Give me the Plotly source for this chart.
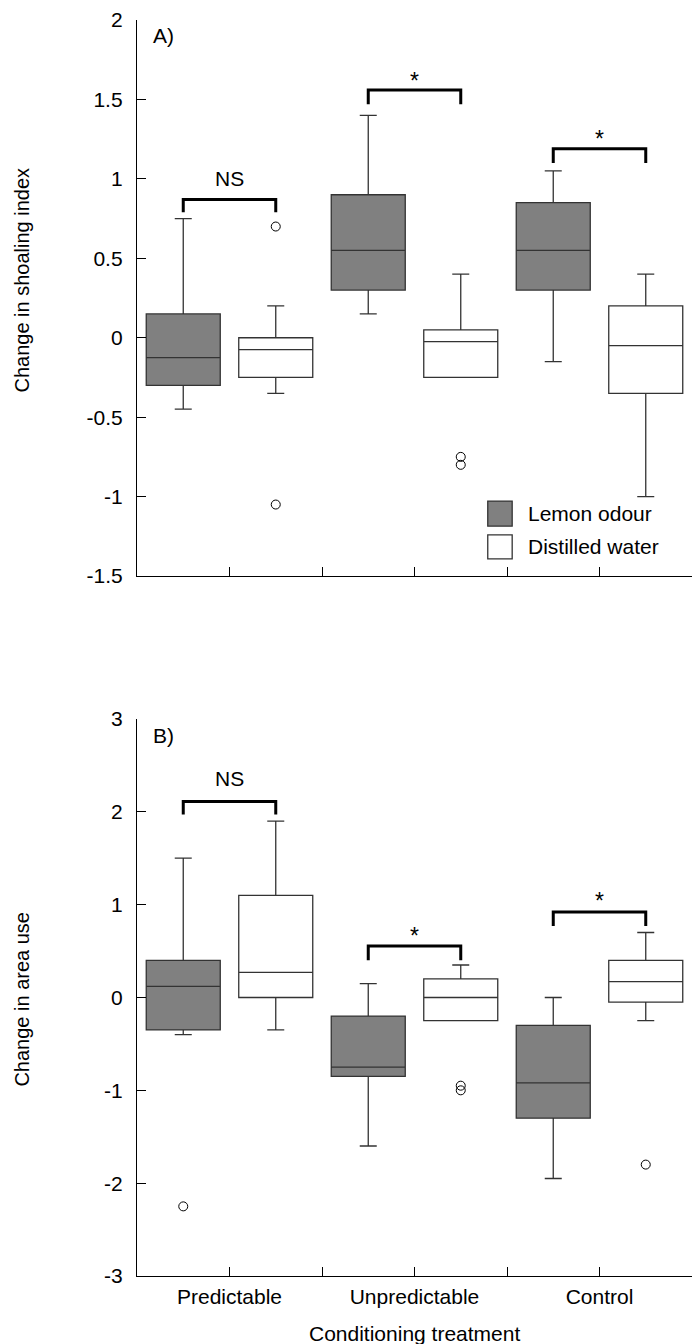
import plotly.graph_objects as go

# Conditioning treatments (x categories)
categories = ["Predictable", "Unpredictable", "Control"]

# Panel A: change in shoaling index, box statistics per treatment
shoal_lemon_lo = [-0.45, 0.15, -0.15]
shoal_lemon_q1 = [-0.30, 0.30, 0.30]
shoal_lemon_med = [-0.125, 0.55, 0.55]
shoal_lemon_q3 = [0.15, 0.90, 0.85]
shoal_lemon_hi = [0.75, 1.40, 1.05]

shoal_water_lo = [-0.35, -0.25, -1.00]
shoal_water_q1 = [-0.25, -0.25, -0.35]
shoal_water_med = [-0.075, -0.025, -0.05]
shoal_water_q3 = [0.00, 0.05, 0.20]
shoal_water_hi = [0.20, 0.40, 0.40]

shoal_water_out_cat = ["Predictable", "Predictable", "Unpredictable", "Unpredictable"]
shoal_water_out_val = [0.70, -1.05, -0.75, -0.80]

shoal_sig = ["NS", "*", "*"]
shoal_bracket_top = [0.87, 1.56, 1.19]
shoal_bracket_foot = [0.79, 1.47, 1.10]
shoal_sig_y = [1.005, 1.615, 1.25]

# Panel B: change in area use, box statistics per treatment
area_lemon_lo = [-0.40, -1.60, -1.95]
area_lemon_q1 = [-0.35, -0.85, -1.30]
area_lemon_med = [0.12, -0.75, -0.92]
area_lemon_q3 = [0.40, -0.20, -0.30]
area_lemon_hi = [1.50, 0.15, 0.00]

area_lemon_out_cat = ["Predictable"]
area_lemon_out_val = [-2.25]

area_water_lo = [-0.35, -0.25, -0.25]
area_water_q1 = [0.00, -0.25, -0.05]
area_water_med = [0.27, 0.00, 0.17]
area_water_q3 = [1.10, 0.20, 0.40]
area_water_hi = [1.90, 0.35, 0.70]

area_water_out_cat = ["Unpredictable", "Unpredictable", "Control"]
area_water_out_val = [-0.95, -1.00, -1.80]

area_sig = ["NS", "*", "*"]
area_bracket_top = [2.11, 0.555, 0.92]
area_bracket_foot = [1.97, 0.40, 0.77]
area_sig_y = [2.36, 0.665, 1.035]

shoal_ticks = [-1.5, -1, -0.5, 0, 0.5, 1, 1.5, 2]
shoal_ticktext = ["-1.5", "-1", "-0.5", "0", "0.5", "1", "1.5", "2"]
area_ticks = [-3, -2, -1, 0, 1, 2, 3]
area_ticktext = ["-3", "-2", "-1", "0", "1", "2", "3"]

FONT = "Arial, Liberation Sans, sans-serif"
FS = 21
LEMON_FILL = "#808080"
WATER_FILL = "#ffffff"
EDGE = "#333333"

# each treatment gets two slots: lemon odour then distilled water
lemon_x = [2 * i for i in range(len(categories))]
water_x = [2 * i + 1 for i in range(len(categories))]


def slot(cat, offset):
    return 2 * categories.index(cat) + offset


fig = go.Figure()


def add_boxes(xs, lo, q1, med, q3, hi, fill, ax):
    fig.add_trace(go.Box(
        x=xs, lowerfence=lo, q1=q1, median=med, q3=q3, upperfence=hi,
        width=0.8, whiskerwidth=0.23, fillcolor=fill,
        line=dict(color=EDGE, width=1.3), boxpoints=False,
        showlegend=False, hoverinfo="skip",
        xaxis="x" if ax == 1 else "x2", yaxis="y" if ax == 1 else "y2",
    ))


def add_outliers(cats, vals, offset, ax):
    fig.add_trace(go.Scatter(
        x=[slot(c, offset) for c in cats], y=vals, mode="markers",
        marker=dict(symbol="circle-open", size=9, color="black",
                    line=dict(width=1, color="black")),
        showlegend=False, hoverinfo="skip",
        xaxis="x" if ax == 1 else "x2", yaxis="y" if ax == 1 else "y2",
    ))


def add_brackets(tops, feet, labels, label_y, ax):
    for i, (top, foot, lab, ly) in enumerate(zip(tops, feet, labels, label_y)):
        x0, x1 = lemon_x[i], water_x[i]
        fig.add_trace(go.Scatter(
            x=[x0, x0, x1, x1], y=[foot, top, top, foot], mode="lines",
            line=dict(color="black", width=3),
            showlegend=False, hoverinfo="skip",
            xaxis="x" if ax == 1 else "x2", yaxis="y" if ax == 1 else "y2",
        ))
        fig.add_annotation(
            x=(x0 + x1) / 2, y=ly, text=lab, showarrow=False,
            xref="x" if ax == 1 else "x2", yref="y" if ax == 1 else "y2",
            font=dict(family=FONT, size=FS if lab != "*" else 23, color="black"),
            xanchor="center", yanchor="middle",
        )


add_boxes(lemon_x, shoal_lemon_lo, shoal_lemon_q1, shoal_lemon_med,
          shoal_lemon_q3, shoal_lemon_hi, LEMON_FILL, 1)
add_boxes(water_x, shoal_water_lo, shoal_water_q1, shoal_water_med,
          shoal_water_q3, shoal_water_hi, WATER_FILL, 1)
add_outliers(shoal_water_out_cat, shoal_water_out_val, 1, 1)
add_brackets(shoal_bracket_top, shoal_bracket_foot, shoal_sig, shoal_sig_y, 1)

add_boxes(lemon_x, area_lemon_lo, area_lemon_q1, area_lemon_med,
          area_lemon_q3, area_lemon_hi, LEMON_FILL, 2)
add_boxes(water_x, area_water_lo, area_water_q1, area_water_med,
          area_water_q3, area_water_hi, WATER_FILL, 2)
add_outliers(area_lemon_out_cat, area_lemon_out_val, 0, 2)
add_outliers(area_water_out_cat, area_water_out_val, 1, 2)
add_brackets(area_bracket_top, area_bracket_foot, area_sig, area_sig_y, 2)

boundary_ticks = [i + 0.5 for i in range(2 * len(categories))]
cat_ticktext = []
for i in range(len(categories)):
    cat_ticktext += [categories[i], ""]

xaxis_common = dict(
    range=[-0.5, 2 * len(categories) - 0.5], showline=True, linecolor="black",
    linewidth=1.3, ticks="inside", ticklen=9, tickwidth=1.3, tickcolor="black",
    tickvals=boundary_ticks, showgrid=False, zeroline=False,
    tickfont=dict(family=FONT, size=FS, color="black"), fixedrange=True,
)
yaxis_common = dict(
    showline=True, linecolor="black", linewidth=1.3, ticks="inside",
    ticklen=9, tickwidth=1.3, tickcolor="black", showgrid=False,
    zeroline=False, tickfont=dict(family=FONT, size=FS, color="black"),
    ticklabelstandoff=9, fixedrange=True,
)

fig.update_layout(
    width=693, height=1344,
    margin=dict(l=137, r=1, t=20, b=68),
    paper_bgcolor="white", plot_bgcolor="white",
    font=dict(family=FONT, size=FS, color="black"),
    showlegend=False,
    xaxis=dict(xaxis_common, anchor="y", ticktext=[""] * len(boundary_ticks)),
    yaxis=dict(yaxis_common, domain=[0.5573, 1.0], range=[-1.5, 2],
               tickvals=shoal_ticks, ticktext=shoal_ticktext, anchor="x"),
    xaxis2=dict(xaxis_common, anchor="y2", ticktext=cat_ticktext,
                ticklabelstandoff=2),
    yaxis2=dict(yaxis_common, domain=[0.0, 0.4435], range=[-3, 3],
                tickvals=area_ticks, ticktext=area_ticktext, anchor="x2"),
)

# panel letters
fig.add_annotation(x=0.026, y=0.988, xref="paper", yref="paper", text="A)",
                   showarrow=False, xanchor="left", yanchor="middle",
                   font=dict(family=FONT, size=FS))
fig.add_annotation(x=0.026, y=0.4307, xref="paper", yref="paper", text="B)",
                   showarrow=False, xanchor="left", yanchor="middle",
                   font=dict(family=FONT, size=FS))

# axis titles
fig.add_annotation(x=-0.208, y=0.793, xref="paper", yref="paper",
                   text="Change in shoaling index", textangle=-90,
                   showarrow=False, xanchor="center", yanchor="middle",
                   font=dict(family=FONT, size=20))
fig.add_annotation(x=-0.208, y=0.2205, xref="paper", yref="paper",
                   text="Change in area use", textangle=-90,
                   showarrow=False, xanchor="center", yanchor="middle",
                   font=dict(family=FONT, size=20))
fig.add_annotation(x=0.5, y=-0.0454, xref="paper", yref="paper",
                   text="Conditioning treatment", showarrow=False,
                   xanchor="center", yanchor="middle",
                   font=dict(family=FONT, size=FS))

# legend keys
legend_items = [("Lemon odour", LEMON_FILL, 0.617, 0.597),
                ("Distilled water", WATER_FILL, 0.590, 0.571)]
for label, fill, ytop, ybot in legend_items:
    fig.add_shape(type="rect", xref="paper", yref="paper",
                  x0=0.632, x1=0.676, y0=ybot, y1=ytop,
                  fillcolor=fill, line=dict(color=EDGE, width=1.3))
    fig.add_annotation(x=0.700, y=(ytop + ybot) / 2, xref="paper", yref="paper",
                       text=label, showarrow=False, xanchor="left",
                       yanchor="middle", font=dict(family=FONT, size=FS))

fig.write_html("out.html")
